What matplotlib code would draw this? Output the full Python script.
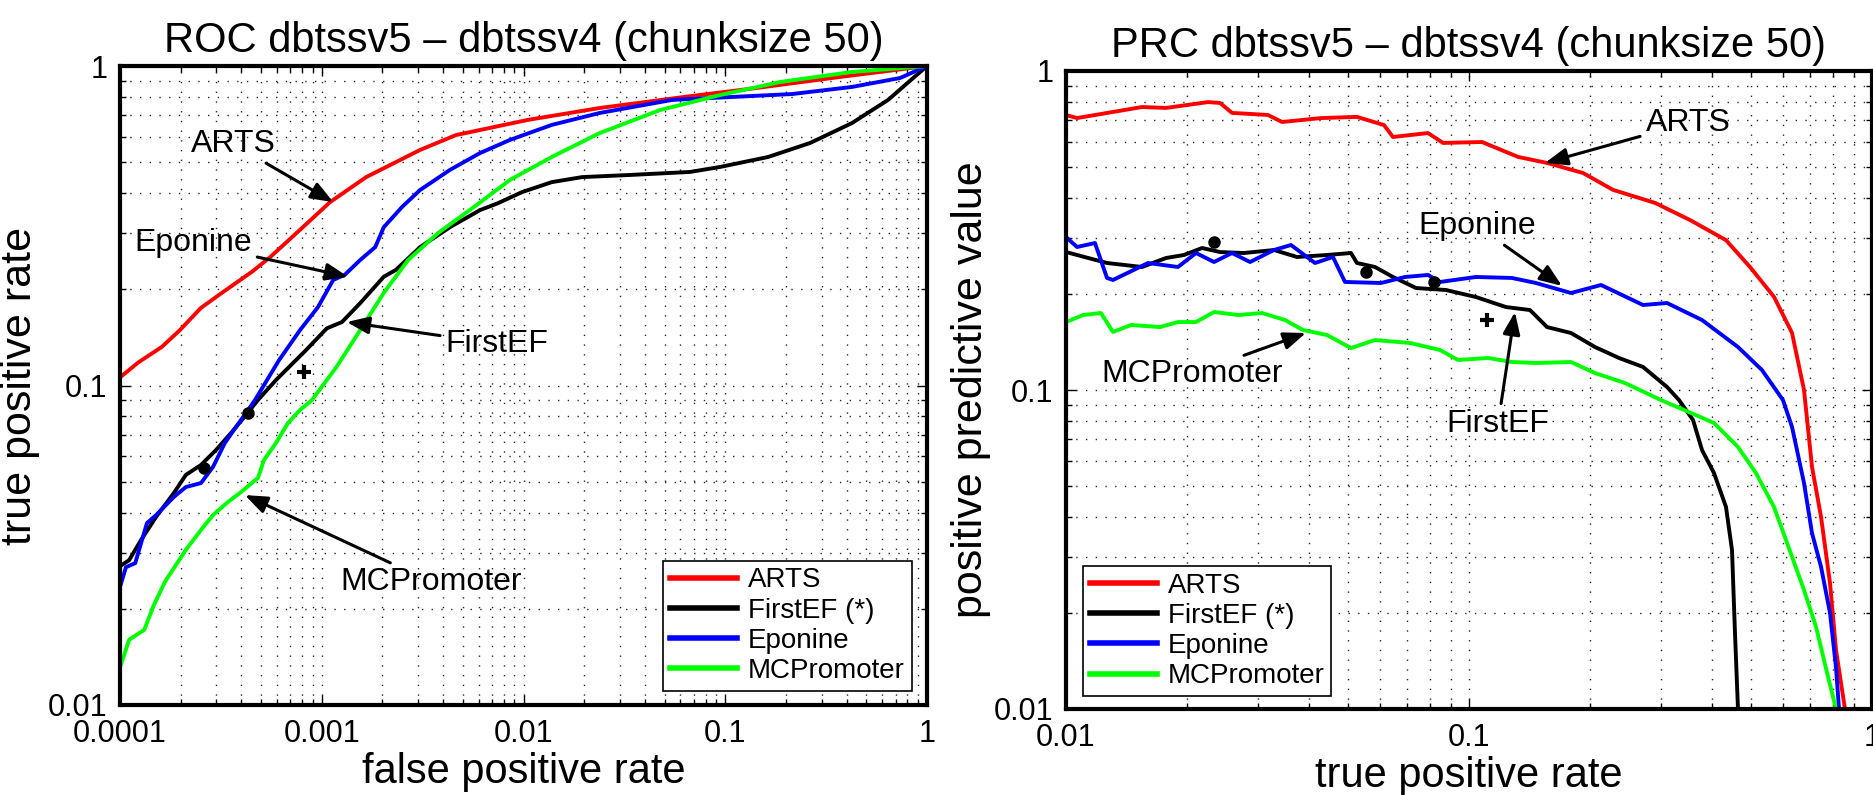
import matplotlib
matplotlib.use("Agg")
import matplotlib.pyplot as plt
from matplotlib.ticker import FixedLocator, FixedFormatter, NullFormatter, LogLocator

plt.rcParams['font.family'] = ['Liberation Sans', 'DejaVu Sans']

methods = ["ARTS", "FirstEF (*)", "Eponine", "MCPromoter"]
colors = ["#ff0000", "#000000", "#0000ff", "#00ff00"]

# ROC dbtssv5 - dbtssv4 (false positive rate / true positive rate)
roc_arts_fpr = [1e-4, 1.23e-4, 1.61e-4, 1.98e-4, 2.52e-4, 3.20e-4, 4.51e-4, 5.54e-4, 7.80e-4, 1.10e-3,
                1.66e-3, 3.07e-3, 4.63e-3, 0.0105, 0.0239, 0.0624, 0.142, 0.370, 1.0]
roc_arts_tpr = [0.106, 0.118, 0.132, 0.149, 0.175, 0.195, 0.227, 0.252, 0.307, 0.375,
                0.449, 0.546, 0.608, 0.678, 0.739, 0.800, 0.853, 0.924, 1.0]
roc_fef_fpr = [1e-4, 1.11e-4, 1.27e-4, 1.51e-4, 1.85e-4, 2.12e-4, 2.52e-4, 2.99e-4, 3.55e-4, 4.21e-4,
               4.83e-4, 5.93e-4, 8.35e-4, 1.06e-3, 1.26e-3, 1.55e-3, 2.03e-3, 2.33e-3, 3.07e-3, 4.32e-3,
               6.09e-3, 7.47e-3, 9.83e-3, 0.0138, 0.0195, 0.0337, 0.0669, 0.0942, 0.163, 0.263,
               0.425, 0.641, 1.0]
roc_fef_tpr = [0.0272, 0.0284, 0.0328, 0.0388, 0.0461, 0.0525, 0.0564, 0.0628, 0.0710, 0.0808,
               0.0901, 0.104, 0.129, 0.151, 0.158, 0.181, 0.219, 0.230, 0.271, 0.313,
               0.354, 0.372, 0.403, 0.433, 0.449, 0.456, 0.466, 0.483, 0.519, 0.574,
               0.663, 0.783, 1.0]
roc_epo_fpr = [1e-4, 1.07e-4, 1.19e-4, 1.36e-4, 1.51e-4, 1.85e-4, 2.12e-4, 2.52e-4, 2.89e-4, 3.31e-4,
               3.67e-4, 4.21e-4, 4.67e-4, 6.14e-4, 7.80e-4, 9.58e-4, 1.14e-3, 1.30e-3, 1.55e-3, 1.84e-3,
               2.03e-3, 2.50e-3, 3.07e-3, 4.32e-3, 6.09e-3, 8.57e-3, 0.0138, 0.0239, 0.0545, 0.108,
               0.214, 0.425, 0.735, 1.0]
roc_epo_tpr = [0.0234, 0.0270, 0.0278, 0.0371, 0.0393, 0.0448, 0.0481, 0.0495, 0.0556, 0.0661,
               0.0726, 0.0820, 0.0901, 0.120, 0.149, 0.176, 0.214, 0.222, 0.247, 0.271,
               0.313, 0.362, 0.409, 0.473, 0.534, 0.587, 0.654, 0.713, 0.783, 0.800,
               0.817, 0.860, 0.917, 1.0]
roc_mcp_fpr = [1e-4, 1.11e-4, 1.32e-4, 1.46e-4, 1.67e-4, 1.92e-4, 2.12e-4, 2.52e-4, 2.89e-4, 3.43e-4,
               3.93e-4, 4.83e-4, 5.17e-4, 5.93e-4, 6.80e-4, 7.80e-4, 8.95e-4, 1.18e-3, 1.55e-3, 2.03e-3,
               2.68e-3, 3.77e-3, 5.68e-3, 8.57e-3, 0.0138, 0.0239, 0.0475, 0.0942, 0.187, 0.425, 1.0]
roc_mcp_tpr = [0.0131, 0.0160, 0.0172, 0.0203, 0.0243, 0.0278, 0.0306, 0.0353, 0.0393, 0.0432,
               0.0461, 0.0514, 0.0584, 0.0661, 0.0763, 0.0838, 0.0901, 0.114, 0.149, 0.195,
               0.247, 0.300, 0.362, 0.440, 0.519, 0.617, 0.728, 0.811, 0.891, 0.958, 1.0]

# PRC dbtssv5 - dbtssv4 (true positive rate / positive predictive value)
prc_arts_tpr = [0.01, 0.01065, 0.01544, 0.01771, 0.02252, 0.02411, 0.02582, 0.03171, 0.03436, 0.04293,
                0.05272, 0.06152, 0.06477, 0.07914, 0.08621, 0.1077, 0.1323, 0.1562, 0.1918, 0.2277,
                0.2894, 0.3536, 0.4342, 0.4980, 0.5711, 0.6332, 0.6781, 0.7098, 0.7474, 0.7867,
                0.8142, 0.8569]
prc_arts_ppv = [0.728, 0.712, 0.771, 0.766, 0.799, 0.794, 0.739, 0.728, 0.692, 0.712,
                0.718, 0.677, 0.621, 0.639, 0.595, 0.599, 0.538, 0.515, 0.479, 0.424,
                0.386, 0.341, 0.295, 0.243, 0.196, 0.151, 0.100, 0.0574, 0.0400, 0.0248,
                0.0153, 0.0100]
prc_fef_tpr = [0.01, 0.01264, 0.01544, 0.01771, 0.01963, 0.02176, 0.02411, 0.02765, 0.03282, 0.03743,
               0.04442, 0.05095, 0.05272, 0.05844, 0.06477, 0.07387, 0.0877, 0.1041, 0.1235, 0.1417,
               0.1562, 0.1791, 0.2054, 0.2356, 0.2703, 0.3100, 0.3320, 0.3597, 0.3787, 0.4055,
               0.4342, 0.4494, 0.4571, 0.4650]
prc_fef_ppv = [0.2707, 0.2501, 0.2430, 0.2593, 0.2650, 0.2787, 0.2707, 0.2688, 0.2747, 0.2612,
               0.2650, 0.2688, 0.2501, 0.2430, 0.2261, 0.2088, 0.2058, 0.1956, 0.1820, 0.1781,
               0.1575, 0.1509, 0.1364, 0.1260, 0.1181, 0.1022, 0.0930, 0.0805, 0.0648, 0.0549,
               0.0430, 0.0315, 0.0173, 0.0100]
prc_epo_tpr = [0.01, 0.01065, 0.0118, 0.01264, 0.01308, 0.01598, 0.01896, 0.02102, 0.0233, 0.02582,
               0.02862, 0.03282, 0.03617, 0.04148, 0.04597, 0.04923, 0.06048, 0.06938, 0.07914, 0.08473,
               0.1041, 0.1278, 0.1466, 0.1791, 0.2126, 0.2703, 0.3100, 0.3787, 0.4650, 0.5333,
               0.6013, 0.6332, 0.6781, 0.7098, 0.7474, 0.7867, 0.8142, 0.8282]
prc_epo_ppv = [0.3017, 0.2807, 0.2889, 0.2245, 0.2213, 0.2501, 0.2430, 0.2688, 0.2519, 0.2688,
               0.2519, 0.2747, 0.2848, 0.2501, 0.2612, 0.2181, 0.2165, 0.2261, 0.2294, 0.2181,
               0.2261, 0.2245, 0.2165, 0.2014, 0.2134, 0.1847, 0.1874, 0.1657, 0.1364, 0.1155,
               0.0930, 0.0766, 0.0511, 0.0356, 0.0279, 0.0200, 0.0135, 0.0100]
prc_mcp_tpr = [0.01, 0.01102, 0.01221, 0.01308, 0.0145, 0.01711, 0.01896, 0.02102, 0.0233, 0.02673,
               0.03064, 0.03495, 0.03873, 0.04442, 0.05095, 0.05844, 0.07139, 0.08473, 0.09392, 0.1114,
               0.1278, 0.1466, 0.1791, 0.2054, 0.2438, 0.2995, 0.3416, 0.4055, 0.4650, 0.5154,
               0.5711, 0.6117, 0.6781, 0.7262, 0.7733, 0.8142]
prc_mcp_ppv = [0.1633, 0.1718, 0.1743, 0.1520, 0.1599, 0.1575, 0.1633, 0.1633, 0.1756, 0.1718,
               0.1743, 0.1657, 0.1542, 0.1487, 0.1354, 0.1434, 0.1404, 0.1335, 0.1242, 0.1260,
               0.1224, 0.1215, 0.1224, 0.1130, 0.1052, 0.0930, 0.0866, 0.0788, 0.0663, 0.0549,
               0.0430, 0.0339, 0.0236, 0.0181, 0.0130, 0.0100]

# FirstEF operating points (dots) and "+" point
roc_dots_fpr = [2.6e-4, 4.3e-4]
roc_dots_tpr = [0.0552, 0.082]
roc_plus = (8.2e-4, 0.110)
prc_dots_tpr = [0.0233, 0.0555, 0.0819]
prc_dots_ppv = [0.291, 0.234, 0.218]
prc_plus = (0.1108, 0.1657)

# annotations: label, arrow tip, text position
roc_notes = [("ARTS", (1.14e-3, 0.375), (3.63e-4, 0.570)),
             ("Eponine", (1.35e-3, 0.219), (2.30e-4, 0.279)),
             ("FirstEF", (1.33e-3, 0.158), (7.39e-3, 0.135)),
             ("MCPromoter", (4.16e-4, 0.0454), (3.48e-3, 0.0243))]
prc_notes = [("ARTS", (0.1544, 0.515), (0.3495, 0.687)),
             ("Eponine", (0.1701, 0.212), (0.1047, 0.327)),
             ("FirstEF", (0.130, 0.1756), (0.118, 0.0782)),
             ("MCPromoter", (0.03939, 0.1509), (0.02055, 0.1122))]

roc_xticks = [1e-4, 1e-3, 1e-2, 0.1, 1]
roc_xlabels = ["0.0001", "0.001", "0.01", "0.1", "1"]
prc_xticks = [0.01, 0.1, 1]
prc_xlabels = ["0.01", "0.1", "1"]
yticks = [0.01, 0.1, 1]
ylabels = ["0.01", "0.1", "1"]


def style(ax, xticks, xlabels, title, xlabel, ylabel, ylpad):
    ax.set_xscale("log")
    ax.set_yscale("log")
    ax.set_xlim(xticks[0], xticks[-1])
    ax.set_ylim(0.01, 1)
    ax.xaxis.set_major_locator(FixedLocator(xticks))
    ax.xaxis.set_major_formatter(FixedFormatter(xlabels))
    ax.yaxis.set_major_locator(FixedLocator(yticks))
    ax.yaxis.set_major_formatter(FixedFormatter(ylabels))
    ax.xaxis.set_minor_locator(LogLocator(base=10, subs=range(2, 10)))
    ax.yaxis.set_minor_locator(LogLocator(base=10, subs=range(2, 10)))
    ax.xaxis.set_minor_formatter(NullFormatter())
    ax.yaxis.set_minor_formatter(NullFormatter())
    ax.grid(True, which="both", color="0.15", linestyle=(0, (1, 6)), linewidth=1.0)
    ax.set_axisbelow(True)
    ax.tick_params(which="both", direction="in", top=True, right=True, labelsize=22, width=1)
    ax.tick_params(which="major", length=7)
    ax.tick_params(which="minor", length=4)
    ax.tick_params(axis="x", pad=10)
    ax.tick_params(axis="y", pad=9)
    for sp in ax.spines.values():
        sp.set_linewidth(3)
    ax.set_title(title, fontsize=30, pad=10)
    ax.set_xlabel(xlabel, fontsize=30, labelpad=2)
    ax.set_ylabel(ylabel, fontsize=31, labelpad=ylpad)


fig = plt.figure(figsize=(18.74, 7.95), dpi=100)
ax1 = fig.add_axes([120 / 1874, 1 - 705 / 795, 807 / 1874, 639 / 795])
ax2 = fig.add_axes([1066 / 1874, 1 - 709 / 795, 806 / 1874, 638 / 795])

roc = [(roc_arts_fpr, roc_arts_tpr), (roc_fef_fpr, roc_fef_tpr),
       (roc_epo_fpr, roc_epo_tpr), (roc_mcp_fpr, roc_mcp_tpr)]
prc = [(prc_arts_tpr, prc_arts_ppv), (prc_fef_tpr, prc_fef_ppv),
       (prc_epo_tpr, prc_epo_ppv), (prc_mcp_tpr, prc_mcp_ppv)]

for i in range(4):
    ax1.plot(roc[i][0], roc[i][1], color=colors[i], lw=2.8, label=methods[i])
    ax2.plot(prc[i][0], prc[i][1], color=colors[i], lw=2.8, label=methods[i])

ax1.plot(roc_dots_fpr, roc_dots_tpr, "o", color="k", ms=8, zorder=5)
ax1.plot([roc_plus[0]], [roc_plus[1]], "+", color="k", ms=10, mew=3, zorder=5)
ax2.plot(prc_dots_tpr, prc_dots_ppv, "o", color="k", ms=8, zorder=5)
ax2.plot([prc_plus[0]], [prc_plus[1]], "+", color="k", ms=10, mew=3, zorder=5)

arrow = dict(arrowstyle="-|>,head_length=0.9,head_width=0.35", color="k", lw=2.2,
             mutation_scale=15, shrinkA=2, shrinkB=0)
for ax, notes in [(ax1, roc_notes), (ax2, prc_notes)]:
    for txt, tip, pos in notes:
        ax.annotate(txt, xy=tip, xytext=pos, ha="center", va="center", fontsize=23,
                    arrowprops=arrow, zorder=6)

style(ax1, roc_xticks, roc_xlabels, "ROC dbtssv5 \u2013 dbtssv4 (chunksize 50)",
      "false positive rate", "true positive rate", 6)
style(ax2, prc_xticks, prc_xlabels, "PRC dbtssv5 \u2013 dbtssv4 (chunksize 50)",
      "true positive rate", "positive predictive value", 2)

leg_kw = dict(fontsize=20, fancybox=False, edgecolor="k", framealpha=1, borderaxespad=0,
              handlelength=2.4, handletextpad=0.4, labelspacing=0.15, borderpad=0.25)
l1 = ax1.legend(loc="lower right", bbox_to_anchor=(0.981, 0.022), **leg_kw)
l2 = ax2.legend(loc="lower left", bbox_to_anchor=(0.021, 0.020), **leg_kw)
for lg in (l1, l2):
    lg.get_frame().set_linewidth(1.2)
    for ln in lg.get_lines():
        ln.set_linewidth(4)

fig.savefig("out.png", dpi=100)
